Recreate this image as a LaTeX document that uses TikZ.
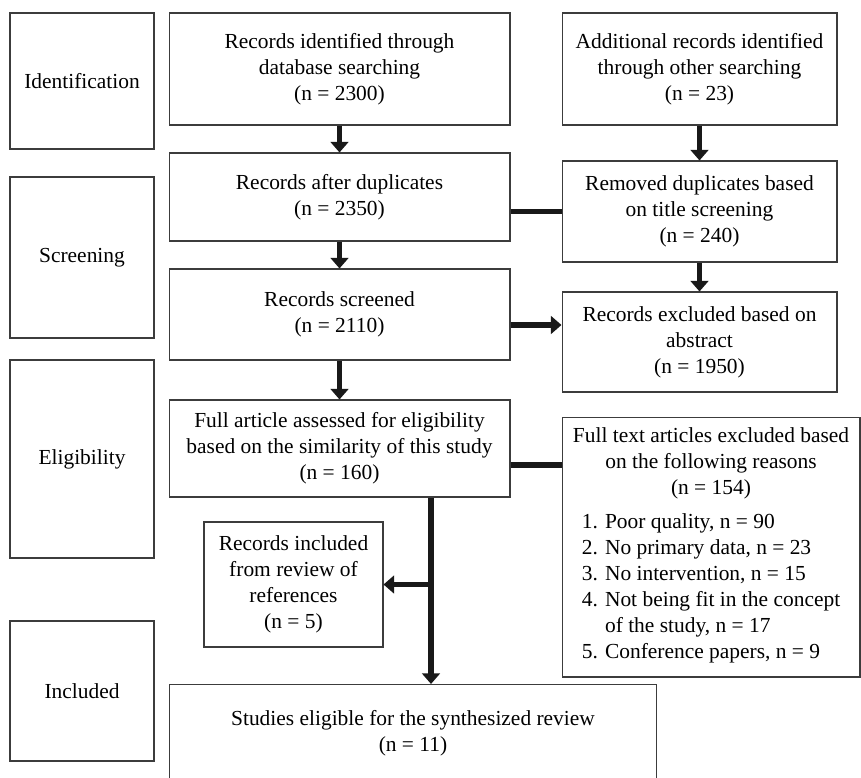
\documentclass[tikz,border=0pt]{standalone}
\usepackage{fontspec}
\setmainfont{Liberation Serif}
\usepackage{tikz}
\usetikzlibrary{positioning,arrows.meta}
\definecolor{boxline}{RGB}{60,60,60}
\definecolor{arrowblack}{RGB}{25,25,25}

\begin{document}
\begin{tikzpicture}[x=0.02cm, y=-0.02cm,
  box/.style={draw=boxline, line width=0.6pt, align=center, inner sep=2pt,
    font=\fontsize{12.2}{14.8}\selectfont},
  flow/.style={draw=arrowblack, line width=3pt, -{Triangle[width=10pt,length=6pt]}},
  link/.style={draw=arrowblack, line width=3pt}]
  \useasboundingbox (0,0) rectangle (861,777);
  % stage labels
  \node[box, minimum width=2.88cm, minimum height=2.72cm] (ident) at (82,81) {Identification};
  \node[box, minimum width=2.88cm, minimum height=3.22cm] (screen) at (82,257.5) {Screening};
  \node[box, minimum width=2.88cm, minimum height=3.96cm] (elig) at (82,459) {Eligibility};
  \node[box, minimum width=2.88cm, minimum height=2.80cm] (incl) at (82,691) {Included};
  % main column
  \node[box, minimum width=6.82cm, minimum height=2.24cm] (found) at (339.5,69)
    {Records identified through\\database searching\\(n = 2300)};
  \node[box, minimum width=6.82cm, minimum height=1.76cm] (dedup) at (339.5,197)
    {Records after duplicates\\(n = 2350)};
  \node[box, minimum width=6.82cm, minimum height=1.82cm] (screened) at (339.5,314.5)
    {Records screened\\(n = 2110)};
  \node[box, minimum width=6.82cm, minimum height=1.94cm] (fullart) at (339.5,448.5)
    {Full article assessed for eligibility\\based on the similarity of this study\\(n = 160)};
  \node[box, minimum width=3.58cm, minimum height=2.50cm] (refs) at (293.5,584.5)
    {Records included\\from review of\\references\\(n = 5)};
  \node[box, minimum width=9.76cm, minimum height=1.94cm] (final) at (413,733)
    {Studies eligible for the synthesized review\\(n = 11)};
  % side column
  \node[box, minimum width=5.50cm, minimum height=2.24cm] (other) at (699.5,69)
    {Additional records identified\\through other searching\\(n = 23)};
  \node[box, minimum width=5.50cm, minimum height=2.02cm] (removed) at (699.5,211.5)
    {Removed duplicates based\\on title screening\\(n = 240)};
  \node[box, minimum width=5.50cm, minimum height=2.00cm] (abstr) at (699.5,342)
    {Records excluded based on\\abstract\\(n = 1950)};
  \node[box, minimum width=5.96cm, minimum height=5.20cm] (reasons) at (711,547)
    {Full text articles excluded based\\on the following reasons\\(n = 154)\\[5pt]
     \begin{tabular}[t]{@{}r@{ }l@{}}
       1. & Poor quality, n = 90\\
       2. & No primary data, n = 23\\
       3. & No intervention, n = 15\\
       4. & Not being fit in the concept\\
          & of the study, n = 17\\
       5. & Conference papers, n = 9
     \end{tabular}};
  \coordinate (split) at (431,0);

  \draw[flow] (found) -- (dedup);
  \draw[flow] (dedup) -- (screened);
  \draw[flow] (screened) -- (fullart);
  \draw[flow] (other) -- (removed);
  \draw[flow] (removed) -- (abstr);
  \draw[link] (dedup.east |- removed.west) -- (removed.west);
  \draw[flow] ([yshift=-0.21cm]screened.east) -- ([yshift=-0.21cm]screened.east -| abstr.west);
  \draw[link] ([yshift=-0.33cm]fullart.east) -- ([yshift=-0.33cm]fullart.east -| reasons.west);
  \draw[flow] (split |- fullart.south) -- (split |- final.north);
  \draw[flow] (split |- refs.east) -- (refs.east);
\end{tikzpicture}
\end{document}
